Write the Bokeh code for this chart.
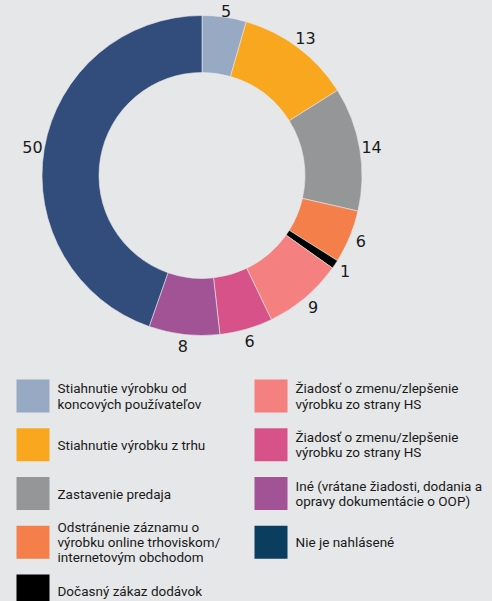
import math
from bokeh.plotting import figure
from bokeh.models import Range1d, ColumnDataSource
from bokeh.core.properties import value
from bokeh.embed import file_html
from bokeh.resources import INLINE

# ---- data ----
categories = [
    "Stiahnutie výrobku od\nkoncových používateľov",
    "Stiahnutie výrobku z trhu",
    "Zastavenie predaja",
    "Odstránenie záznamu o\nvýrobku online trhoviskom/\ninternetovým obchodom",
    "Dočasný zákaz dodávok",
    "Žiadosť o zmenu/zlepšenie\nvýrobku zo strany HS",
    "Žiadosť o zmenu/zlepšenie\nvýrobku zo strany HS",
    "Iné (vrátane žiadosti, dodania a\nopravy dokumentácie o OOP)",
    "Nie je nahlásené",
]
values = [5, 13, 14, 6, 1, 9, 6, 8, 50]
slice_colors = ["#98A9C4", "#F9A71E", "#959698", "#F47F4A", "#000000",
                "#F48080", "#D65289", "#A25396", "#324D7C"]
legend_colors = ["#98A9C4", "#F9A71E", "#959698", "#F47F4A", "#000000",
                 "#F48080", "#D65289", "#A25396", "#0B3E5E"]

BG = "#E6E7E9"
W, H = 492, 601

p = figure(width=W, height=H, output_backend="svg", toolbar_location=None,
           x_range=Range1d(0, W), y_range=Range1d(0, H),
           min_border=0, background_fill_color=BG, border_fill_color=BG)
p.axis.visible = False
p.grid.visible = False
p.outline_line_color = None

def Y(y):
    return H - y

cx, cy = 201.5, 175.0
r_out, r_in = 160.0, 103.0
total = float(sum(values))

starts, ends, mids = [], [], []
cum = 0.0
for v in values:
    a0 = math.pi / 2 - cum / total * 2 * math.pi
    a1 = math.pi / 2 - (cum + v) / total * 2 * math.pi
    starts.append(a1)
    ends.append(a0)
    mids.append((a0 + a1) / 2)
    cum += v

src = ColumnDataSource(dict(x=[cx] * len(values), y=[Y(cy)] * len(values),
                            start=starts, end=ends, color=slice_colors))
p.annular_wedge(x="x", y="y", inner_radius=r_in, outer_radius=r_out,
                start_angle="start", end_angle="end", direction="anticlock",
                fill_color="color", line_color=BG, line_width=0.6, source=src)

r_lab = 172.0
lx = [cx + r_lab * math.cos(m) for m in mids]
# keep labels inside the top edge of the page
ly = [min(Y(cy) + r_lab * math.sin(m), Y(10)) for m in mids]
p.text(x=lx, y=ly, text=[str(v) for v in values], text_align="center",
       text_baseline="middle", text_font=value("DejaVu Sans"),
       text_font_size="16px", text_color="#1a1a1a")

# ---- legend ----
row_top0, row_step, sq = 379.0, 48.75, 33.0
col_x = [16.0, 254.0]
sx, sy, tx, ty = [], [], [], []
for i, c in enumerate(categories):
    col = 0 if i < 5 else 1
    row = i if i < 5 else i - 5
    top = row_top0 + row * row_step
    sx.append(col_x[col] + sq / 2)
    sy.append(Y(top + sq / 2))
    tx.append(col_x[col] + sq + 8)
    ty.append(Y(top + sq / 2))

p.rect(x=sx, y=sy, width=sq, height=sq, fill_color=legend_colors, line_color=None)
p.text(x=tx, y=ty, text=categories, text_align="left", text_baseline="middle",
       text_font=value("Roboto"), text_font_size="13.5px", text_color="#1a1a1a",
       text_line_height=0.95)

html = file_html(p, INLINE)
html = html.replace("<head>", "<head><style>html,body{margin:0;padding:0;background:%s;overflow:hidden}</style>" % BG, 1)
open("out.html", "w").write(html)
